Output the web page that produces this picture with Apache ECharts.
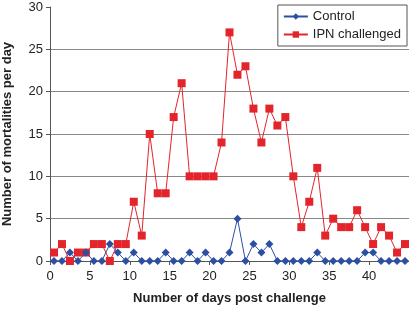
<!DOCTYPE html>
<html>
<head>
<meta charset="utf-8">
<script src="https://cdn.jsdelivr.net/npm/echarts@6/dist/echarts.min.js"></script>
<style>html,body{margin:0;padding:0;background:#fff;}#c{width:409px;height:310px;}</style>
</head>
<body>
<div id="c"></div>
<script>
const days = Array.from({length: 45}, (_, i) => String(i));
const control = [0,0,1,0,1,0,0,2,1,0, 1,0,0,0,1,0,0,1,0,1, 0,0,1,5,0,2,1,2,0,0, 0,0,0,1,0,0,0,0,0,1, 1,0,0,0,0];
const ipn = [1,2,0,1,1,2,2,0,2,2, 7,3,15,8,8,17,21,10,10,10, 10,14,27,22,23,18,14,18,16,17, 10,4,7,11,3,5,4,4,6,4, 2,4,3,1,2];
const seriesNames = ['Control', 'IPN challenged'];
const xTitle = 'Number of days post challenge';
const yTitle = 'Number of mortalities per day';

const FONT = 'Liberation Sans, Arial, sans-serif';
const chart = echarts.init(document.getElementById('c'), null, {renderer: 'canvas'});
chart.setOption({
  animation: false,
  backgroundColor: '#fff',
  grid: {left: 50, right: 0, top: 7, bottom: 49, containLabel: false, outerBoundsMode: 'none'},
  legend: {
    orient: 'vertical', right: 2, top: 5,
    backgroundColor: '#fff', borderColor: '#555', borderWidth: 1,
    padding: [5, 6, 5, 5], itemGap: 5, itemWidth: 24, itemHeight: 8,
    textStyle: {fontFamily: FONT, fontSize: 13, color: '#222'},
    data: seriesNames
  },
  xAxis: [
    {type: 'category', data: days, boundaryGap: true, show: false},
    {type: 'value', min: 0, max: 45, interval: 5, position: 'bottom',
     axisLine: {show: true, onZero: false, lineStyle: {color: '#555', width: 1}},
     axisTick: {show: true, length: 4, lineStyle: {color: '#555'}},
     splitLine: {show: false},
     axisLabel: {fontFamily: FONT, fontSize: 13, color: '#222', margin: 9, showMaxLabel: false},
     name: xTitle, nameLocation: 'middle', nameGap: 31,
     nameTextStyle: {fontFamily: FONT, fontSize: 13, fontWeight: 'bold', color: '#222'}}
  ],
  yAxis: {
    type: 'value', min: 0, max: 30, interval: 5,
    axisLine: {show: true, lineStyle: {color: '#555', width: 1}},
    axisTick: {show: true, length: 4, lineStyle: {color: '#555'}},
    splitLine: {show: true, lineStyle: {color: ['#888','#888','#888','#888','#888','#888','rgba(0,0,0,0)'], width: 1}},
    axisLabel: {fontFamily: FONT, fontSize: 13, color: '#222', margin: 7},
    name: yTitle, nameLocation: 'middle', nameGap: 36,
    nameTextStyle: {fontFamily: FONT, fontSize: 13, fontWeight: 'bold', color: '#222'}
  },
  series: [
    {name: seriesNames[0], type: 'line', xAxisIndex: 0, data: control,
     symbol: 'diamond', symbolSize: 8, showAllSymbol: true,
     itemStyle: {color: '#2c4fa3'}, lineStyle: {color: '#2c4fa3', width: 1}, z: 3},
    {name: seriesNames[1], type: 'line', xAxisIndex: 0, data: ipn,
     symbol: 'rect', symbolSize: 8, showAllSymbol: true,
     itemStyle: {color: '#e3242b'}, lineStyle: {color: '#e3242b', width: 1}, z: 2}
  ]
});
</script>
</body>
</html>
